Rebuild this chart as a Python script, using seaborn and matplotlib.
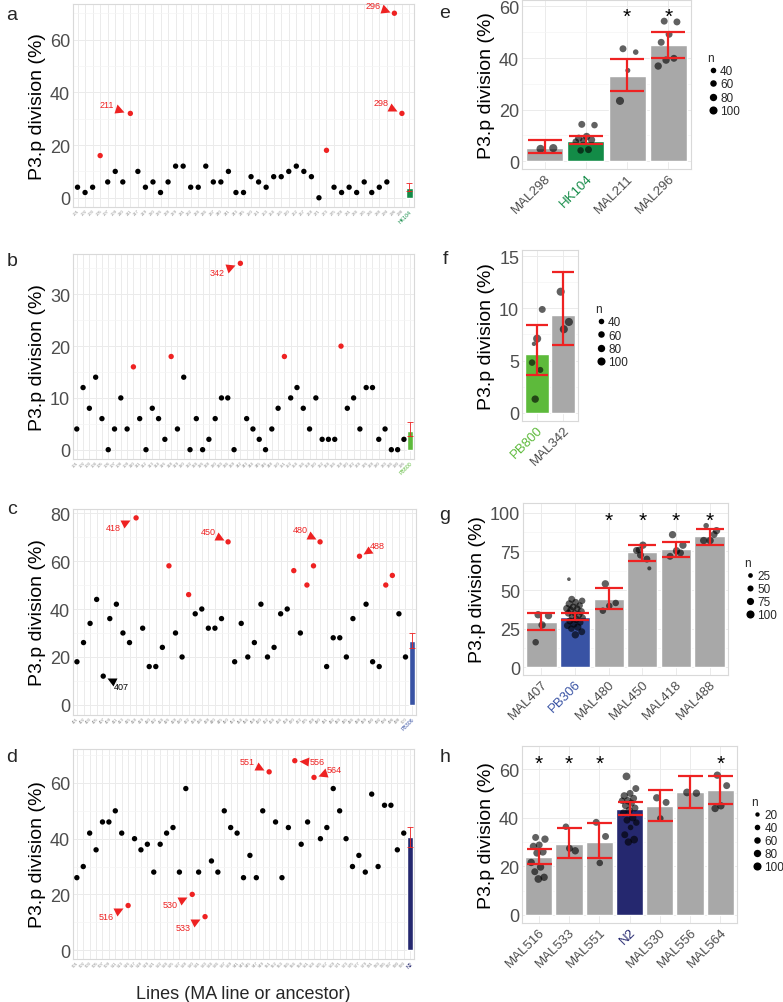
import numpy as np
import pandas as pd
import matplotlib
matplotlib.use("Agg")
import matplotlib.pyplot as plt
from matplotlib.markers import MarkerStyle
from matplotlib.transforms import Affine2D, ScaledTranslation
from matplotlib.lines import Line2D
from matplotlib.ticker import AutoMinorLocator
import seaborn as sns

# ---------------- panels a-d : MA lines ----------------
a_lines = ['201', '202', '203', '205', '207', '209', '210', '211', '217', '219', '220', '226', '228',
           '229', '231', '232', '234', '236', '237', '240', '241', '243', '245', '250', '251', '253',
           '254', '255', '260', '262', '267', '268', '271', '273', '275', '278', '281', '284', '285',
           '286', '288', '294', '296', '298']
a_pct = [4, 2, 4, 16, 6, 10, 6, 32, 10, 4, 6, 2, 6, 12, 12, 4, 4, 12, 6, 6, 10, 2, 2, 8, 6, 4, 8, 8,
         10, 12, 10, 8, 0, 18, 4, 2, 4, 2, 6, 2, 4, 6, 70, 32]
a_hits = ['205', '211', '273', '296', '298']
a_anc, a_anc_mean, a_anc_lo, a_anc_hi = 'HK104', 3.6, 2.4, 5.6

b_lines = ['301', '302', '303', '304', '305', '306', '307', '308', '309', '310', '311', '312', '313',
           '314', '316', '318', '319', '320', '322', '324', '326', '328', '330', '333', '336', '339',
           '342', '343', '344', '345', '346', '348', '350', '351', '352', '354', '356', '358', '360',
           '362', '364', '366', '368', '370', '372', '374', '376', '378', '380', '383', '386', '390',
           '395']
b_pct = [4, 12, 8, 14, 6, 0, 4, 10, 4, 16, 6, 0, 8, 6, 2, 18, 4, 14, 0, 6, 0, 2, 6, 10, 10, 0, 36,
         6, 4, 2, 0, 4, 8, 18, 10, 12, 8, 4, 10, 2, 2, 2, 20, 8, 10, 4, 12, 12, 2, 4, 0, 0, 2]
b_hits = ['310', '318', '342', '351', '368']
b_anc, b_anc_mean, b_anc_lo, b_anc_hi = 'PB800', 3.6, 2.7, 5.3

c_lines = ['401', '402', '403', '405', '407', '409', '411', '413', '415', '418', '419', '420', '422',
           '424', '426', '428', '430', '432', '434', '436', '438', '440', '445', '450', '452', '454',
           '456', '458', '460', '462', '464', '466', '468', '470', '472', '475', '478', '480', '481',
           '482', '483', '485', '486', '488', '489', '490', '492', '494', '496', '498', '500']
c_pct = [18, 26, 34, 44, 12, 36, 42, 30, 26, 78, 32, 16, 16, 24, 58, 30, 20, 46, 38, 40, 32, 32,
         36, 68, 18, 34, 20, 26, 42, 20, 24, 38, 40, 56, 30, 50, 58, 68, 16, 28, 28, 20, 36, 62,
         42, 18, 16, 50, 54, 38, 20]
c_hits = ['418', '426', '432', '450', '470', '475', '478', '480', '488', '494', '496']
c_anc, c_anc_mean, c_anc_lo, c_anc_hi = 'PB306', 26.8, 23.9, 30.1

d_lines = ['501', '502', '503', '505', '507', '509', '511', '513', '516', '517', '518', '519', '521',
           '522', '524', '525', '527', '528', '530', '531', '533', '534', '536', '537', '539', '541',
           '543', '545', '547', '549', '551', '552', '553', '555', '556', '558', '561', '564', '565',
           '567', '569', '571', '573', '575', '577', '579', '581', '583', '585', '587', '590', '593']
d_pct = [26, 30, 42, 36, 46, 46, 50, 42, 16, 40, 36, 38, 28, 38, 42, 44, 28, 58, 20, 28, 12, 32,
         28, 50, 44, 42, 26, 34, 26, 50, 64, 46, 26, 44, 68, 38, 46, 62, 40, 44, 58, 50, 40, 30,
         34, 28, 56, 30, 52, 52, 36, 42]
d_hits = ['516', '530', '533', '551', '556', '564']
d_anc, d_anc_mean, d_anc_lo, d_anc_hi = 'N2', 40.5, 36.9, 44.1

# ---------------- panels e-h : selected lines ----------------
e_cats = ['MAL298', 'HK104', 'MAL211', 'MAL296']
e_mean = [5.0, 7.9, 32.9, 45.2]
e_lo = [3.2, 6.6, 27.1, 40.1]
e_hi = [8.3, 9.8, 39.5, 50.2]
e_stars = ['MAL211', 'MAL296']
e_pts = {'MAL298': ([4.8, 5.1], [100, 100]),
         'HK104': ([14.3, 14.0, 9.6, 8.9, 8.3, 8.0, 7.6, 4.5, 4.2], [70, 60, 80, 80, 80, 70, 60, 70, 60]),
         'MAL211': ([43.6, 42.3, 35.2, 23.4], [70, 40, 30, 100]),
         'MAL296': ([54.3, 54.0, 49.2, 46.1, 39.9, 39.2, 36.9], [70, 70, 70, 70, 70, 80, 80])}
e_legend = [40, 60, 80, 100]

f_cats = ['PB800', 'MAL342']
f_mean = [5.6, 9.4]
f_lo = [3.6, 6.5]
f_hi = [8.4, 13.5]
f_stars = []
f_pts = {'PB800': ([6.6, 9.9, 7.1, 4.8, 4.1, 1.3], [20, 70, 100, 60, 50, 80]),
         'MAL342': ([11.6, 8.7, 8.0], [100, 100, 100])}
f_legend = [40, 60, 80, 100]

g_cats = ['MAL407', 'PB306', 'MAL480', 'MAL450', 'MAL418', 'MAL488']
g_mean = [29.5, 32.8, 44.4, 74.4, 76.5, 85.1]
g_lo = [24.1, 30.8, 37.7, 68.8, 71.1, 79.3]
g_hi = [35.1, 34.9, 51.3, 79.1, 81.3, 89.4]
g_stars = ['MAL480', 'MAL450', 'MAL418', 'MAL488']
g_pts = {'MAL407': ([34, 33.4, 27.4, 16.2], [80, 80, 80, 60]),
         'PB306': ([44, 43, 42, 41, 40, 39, 38, 38, 37, 36, 35, 35, 34, 33, 32, 31, 30, 29, 28,
                    27, 26, 25, 23, 21, 57],
                   [70, 60, 70, 80, 60, 70, 80, 60, 70, 80, 60, 70, 80, 70, 60, 80, 70, 60, 80,
                    70, 80, 60, 70, 80, 10]),
         'MAL480': ([54, 41.6, 39.7, 36.6], [80, 60, 60, 60]),
         'MAL450': ([75.9, 64, 79, 75.6, 70, 72.6], [60, 15, 80, 70, 70, 70]),
         'MAL418': ([85.8, 79, 75.4, 71.8, 74], [80, 80, 80, 70, 70]),
         'MAL488': ([91.6, 88.4, 82, 82, 86], [40, 80, 80, 80, 70])}
g_legend = [25, 50, 75, 100]

h_cats = ['MAL516', 'MAL533', 'MAL551', 'N2', 'MAL530', 'MAL556', 'MAL564']
h_mean = [23.7, 29.0, 30.0, 43.6, 45.0, 50.4, 51.5]
h_lo = [21.0, 23.3, 23.3, 41.0, 38.8, 44.1, 45.8]
h_hi = [27.1, 35.9, 37.9, 46.6, 51.5, 57.1, 57.3]
h_stars = ['MAL516', 'MAL533', 'MAL551', 'MAL564']
h_pts = {'MAL516': ([31.9, 31.2, 28.8, 28.2, 26, 25.5, 21.6, 19.7, 17.8, 15.5, 14.8],
                    [70, 80, 70, 80, 90, 80, 80, 80, 70, 80, 90]),
         'MAL533': ([36.3, 26.4, 27.4], [60, 80, 70]),
         'MAL551': ([38.1, 32.3, 21.4], [70, 70, 60]),
         'N2': ([57, 52, 50, 49, 48, 47, 47, 46, 45, 44, 43, 42, 40, 39, 38, 36, 33, 31, 30],
                [90, 70, 70, 80, 70, 80, 60, 70, 80, 70, 80, 70, 80, 70, 60, 40, 70, 90, 80]),
         'MAL530': ([48.2, 46.3, 39.7], [80, 70, 60]),
         'MAL556': ([50.4, 50.1], [90, 80]),
         'MAL564': ([57.5, 53.2, 44.9, 43.8], [80, 70, 80, 80])}
h_legend = [20, 40, 60, 80, 100]

RED = '#EE2222'
GREY_BAR = '#A8A8A8'
anc_colors = {'HK104': '#138B47', 'PB800': '#5DBA3B', 'PB306': '#3953A4', 'N2': '#25286F'}

for lines, pct in [(a_lines, a_pct), (b_lines, b_pct), (c_lines, c_pct), (d_lines, d_pct)]:
    assert len(lines) == len(pct)

sns.set_theme(style="white")
plt.rcParams['font.family'] = ['Liberation Sans', 'DejaVu Sans']

W, H = 783, 1003
fig = plt.figure(figsize=(W / 100, H / 100), dpi=100)


def box(l, t, r, b):
    return [l / W, 1 - b / H, (r - l) / W, (b - t) / H]


def style_axes(ax, ylim, yticks):
    ax.set_ylim(*ylim)
    ax.set_yticks(yticks)
    ax.yaxis.set_minor_locator(AutoMinorLocator(2))
    ax.grid(True, which='major', color='#EBEBEB', lw=0.7)
    ax.grid(True, which='minor', axis='y', color='#F4F4F4', lw=0.5)
    ax.set_axisbelow(True)
    for s in ax.spines.values():
        s.set_color('#D9D9D9')
        s.set_linewidth(0.8)
    ax.tick_params(axis='both', which='both', length=0)
    ax.tick_params(axis='y', labelsize=13, labelcolor='#4D4D4D', pad=2)
    ax.set_ylabel('P3.p division (%)', fontsize=14, color='black', labelpad=3)


def callout(ax, x, y, text, dx, dy, color):
    # dx, dy: text offset from the point, in pixels
    dxp, dyp = dx * 0.72, dy * 0.72
    ax.annotate(text, (x, y), xytext=(dxp, dyp), textcoords='offset points',
                ha='center', va='center', fontsize=6.5, color=color)
    shift = ScaledTranslation(0.42 * dxp / 72, 0.42 * dyp / 72, fig.dpi_scale_trans)
    ang = np.degrees(np.arctan2(-dyp, -dxp))
    m = MarkerStyle('^', transform=Affine2D().rotate_deg(ang - 90))
    ax.plot([x], [y], marker=m, ms=6.5, color=color, mec='none',
            transform=ax.transData + shift, clip_on=False)


def lines_panel(ax, lines, pct, hits, anc, anc_mean, anc_lo, anc_hi, ylim, yticks, notes):
    df = pd.DataFrame({'line': lines, 'pct': pct})
    df['pos'] = np.arange(len(df))
    df['hit'] = df['line'].isin(hits)
    sns.scatterplot(data=df, x='pos', y='pct', hue='hit', palette={False: 'black', True: RED},
                    s=15, linewidth=0, legend=False, ax=ax, zorder=3)
    n = len(df)
    ax.bar([n], [anc_mean], width=0.9, color=anc_colors[anc], zorder=2)
    ax.errorbar([n], [anc_mean], yerr=[[anc_mean - anc_lo], [anc_hi - anc_mean]], fmt='none',
                ecolor=RED, elinewidth=0.6, capsize=2, capthick=0.6, zorder=4)
    style_axes(ax, ylim, yticks)
    ax.set_xlim(-0.6, n + 0.6)
    ax.set_xticks(np.arange(n + 1))
    ax.set_xticklabels(lines + [anc], rotation=45, ha='right', rotation_mode='anchor',
                       fontsize=3, color='#8A8A8A')
    ax.get_xticklabels()[-1].set_color(anc_colors[anc])
    ax.get_xticklabels()[-1].set_fontsize(3.8)
    ax.tick_params(axis='x', pad=1)
    ax.set_xlabel('')
    pos = dict(zip(df['line'], df['pos']))
    val = dict(zip(df['line'], df['pct']))
    for line, dx, dy, col in notes:
        callout(ax, pos[line], val[line], line, dx, dy, col)


def jitter(k):
    return ((np.arange(k) * 0.618 + 0.3) % 1 - 0.5) * 0.5


def size_of(n):
    return 4 + n * 0.3


def bar_panel(ax, cats, mean, lo, hi, pts, stars, star_y, ylim, yticks, legend_n, capsize, leg_x):
    colors = [anc_colors.get(c, GREY_BAR) for c in cats]
    sns.barplot(x=cats, y=mean, hue=cats, palette=colors, saturation=1, width=0.9,
                legend=False, ax=ax, zorder=2)
    rows = []
    for i, c in enumerate(cats):
        vals, ns = pts[c]
        for off, v, nn in zip(jitter(len(vals)), vals, ns):
            rows.append((i + off, v, nn))
    pdf = pd.DataFrame(rows, columns=['x', 'y', 'n'])
    sns.scatterplot(data=pdf, x='x', y='y', size='n', sizes=(4, 40), size_norm=(0, 120),
                    color='black', alpha=0.62, linewidth=0, legend=False, ax=ax, zorder=3)
    m = np.array(mean)
    ax.errorbar(np.arange(len(cats)), m, yerr=[m - np.array(lo), np.array(hi) - m], fmt='none',
                ecolor=RED, elinewidth=1.6, capsize=capsize, capthick=1.6, zorder=4)
    for c in stars:
        ax.text(cats.index(c), star_y, '*', ha='center', va='center', fontsize=15, color='black')
    style_axes(ax, ylim, yticks)
    ax.set_xlim(-0.55, len(cats) - 0.45)
    ax.set_xticks(np.arange(len(cats)))
    ax.set_xticklabels(cats, rotation=45, ha='right', rotation_mode='anchor',
                       fontsize=9.5, color='#4D4D4D')
    for t, c in zip(ax.get_xticklabels(), cats):
        if c in anc_colors:
            t.set_color(anc_colors[c])
    ax.tick_params(axis='x', pad=2)
    ax.set_xlabel('')
    handles = [Line2D([], [], marker='o', ls='', color='black', mec='none',
                      ms=np.sqrt(size_of(n))) for n in legend_n]
    ax.legend(handles, [str(n) for n in legend_n], title='n', loc='center left',
              bbox_to_anchor=(leg_x, 0.5), frameon=False, fontsize=8.5, title_fontsize=8.5,
              handletextpad=0.1, labelspacing=0.1, handlelength=1.0, borderpad=0,
              alignment='left')


ax_a = fig.add_axes(box(73, 5, 414, 208))
lines_panel(ax_a, a_lines, a_pct, a_hits, a_anc, a_anc_mean, a_anc_lo, a_anc_hi,
            (-3.5, 73.5), [0, 20, 40, 60],
            [('211', -24, 9, RED), ('296', -21, 8, RED), ('298', -21, 11, RED)])

ax_b = fig.add_axes(box(73, 255, 414, 460))
lines_panel(ax_b, b_lines, b_pct, b_hits, b_anc, b_anc_mean, b_anc_lo, b_anc_hi,
            (-1.8, 37.8), [0, 10, 20, 30],
            [('342', -23, -9, RED)])

ax_c = fig.add_axes(box(73, 510, 416, 716))
lines_panel(ax_c, c_lines, c_pct, c_hits, c_anc, c_anc_mean, c_anc_lo, c_anc_hi,
            (-4.2, 81.7), [0, 20, 40, 60, 80],
            [('418', -23, -10, RED), ('450', -20, 10, RED), ('480', -20, 12, RED),
             ('488', 18, 11, RED), ('407', 18, -10, 'black')])

ax_d = fig.add_axes(box(73, 750, 414, 960))
lines_panel(ax_d, d_lines, d_pct, d_hits, d_anc, d_anc_mean, d_anc_lo, d_anc_hi,
            (-3.2, 72.2), [0, 20, 40, 60],
            [('516', -22, -11, RED), ('530', -22, -10, RED), ('533', -22, -11, RED),
             ('551', -22, 10, RED), ('556', 22, -1, RED), ('564', 20, 8, RED)])
ax_d.set_xlabel('Lines (MA line or ancestor)', fontsize=13, labelpad=12)

ax_e = fig.add_axes(box(522, 1, 691, 170))
bar_panel(ax_e, e_cats, e_mean, e_lo, e_hi, e_pts, e_stars, 56.3, (-3, 62.5), [0, 20, 40, 60],
          e_legend, 12, 1.06)

ax_f = fig.add_axes(box(522, 251, 578, 422))
bar_panel(ax_f, f_cats, f_mean, f_lo, f_hi, f_pts, f_stars, 0, (-0.8, 15.6), [0, 5, 10, 15],
          f_legend, 8, 1.2)

ax_g = fig.add_axes(box(523, 504, 728, 676))
bar_panel(ax_g, g_cats, g_mean, g_lo, g_hi, g_pts, g_stars, 94.8, (-5, 106.3),
          [0, 25, 50, 75, 100], g_legend, 10, 1.05)

ax_h = fig.add_axes(box(522, 747, 737, 924))
bar_panel(ax_h, h_cats, h_mean, h_lo, h_hi, h_pts, h_stars, 62.3, (-3.3, 69.5), [0, 20, 40, 60],
          h_legend, 9, 1.04)

for letter, (px, py) in zip('abcdefgh', [(12, 15), (12, 262), (12, 509), (12, 757),
                                         (445, 14), (445, 260), (445, 515), (445, 757)]):
    fig.text(px / W, 1 - py / H, letter, fontsize=14, ha='center', va='center')

fig.savefig('out.png', dpi=100)
